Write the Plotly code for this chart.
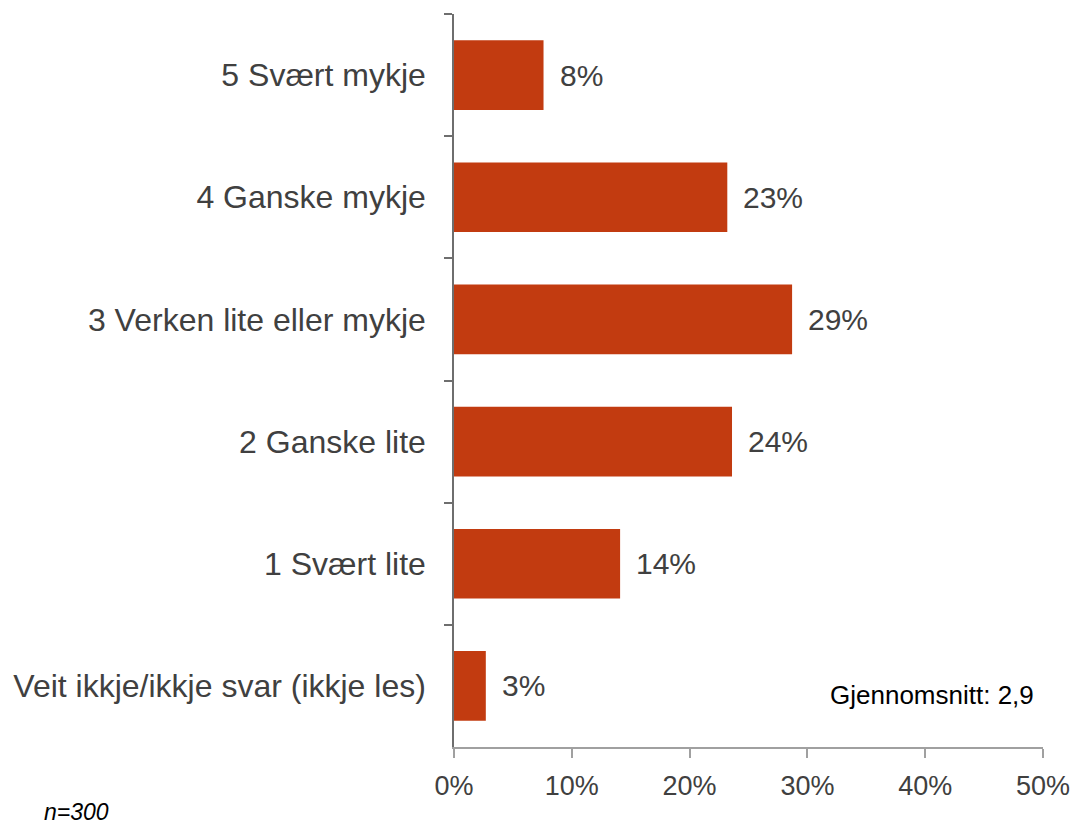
import plotly.graph_objects as go

categories = ["5 Svært mykje", "4 Ganske mykje", "3 Verken lite eller mykje",
              "2 Ganske lite", "1 Svært lite", "Veit ikkje/ikkje svar (ikkje les)"]
values = [7.6, 23.2, 28.7, 23.6, 14.1, 2.7]
tick_vals = [0, 10, 20, 30, 40, 50]
tick_text = ["0%", "10%", "20%", "30%", "40%", "50%"]
bar_color = "#C23B10"
font_family = "Liberation Sans, Arial, sans-serif"

fig = go.Figure()
fig.add_trace(go.Bar(
    x=values, y=categories, orientation="h",
    marker=dict(color=bar_color, line=dict(width=0)),
    width=0.57,
    hoverinfo="skip",
))

for c, v in zip(categories, values):
    fig.add_annotation(x=v, y=c, text=f"{round(v)}%", showarrow=False,
                       xanchor="left", xshift=14,
                       font=dict(size=30, color="#404040", family=font_family))

fig.add_annotation(xref="paper", yref="paper", x=0.988, y=0.071,
                   text="Gjennomsnitt: 2,9", showarrow=False,
                   xanchor="right", yanchor="middle",
                   font=dict(size=26, color="#000000", family=font_family))
fig.add_annotation(xref="paper", yref="paper", x=-0.6995, y=-0.089,
                   text="<i>n=300</i>", showarrow=False,
                   xanchor="left", yanchor="middle",
                   font=dict(size=23, color="#000000", family=font_family))

fig.update_layout(
    width=1070, height=819,
    margin=dict(l=446, r=35, t=6, b=80),
    paper_bgcolor="white", plot_bgcolor="white",
    showlegend=False,
    font=dict(family=font_family, color="#404040"),
)
fig.update_xaxes(
    range=[0, 50], tickvals=tick_vals, ticktext=tick_text,
    showgrid=False, zeroline=False,
    showline=True, linecolor="#A0A0A0", linewidth=1.5,
    ticks="outside", ticklen=9, tickcolor="#A0A0A0", tickwidth=1.5,
    tickfont=dict(size=27, color="#404040"),
    ticklabelstandoff=5,
    automargin=False,
    fixedrange=True,
)
fig.update_yaxes(
    categoryorder="array", categoryarray=categories,
    autorange="reversed",
    showgrid=False, zeroline=False,
    showline=True, linecolor="#6E6E6E", linewidth=1.5,
    ticks="outside", ticklen=8, tickcolor="#6E6E6E", tickwidth=1.5,
    tickson="boundaries",
    tickfont=dict(size=32, color="#404040"),
    ticklabelstandoff=20,
    automargin=False,
    fixedrange=True,
)

fig.write_html("out.html")
